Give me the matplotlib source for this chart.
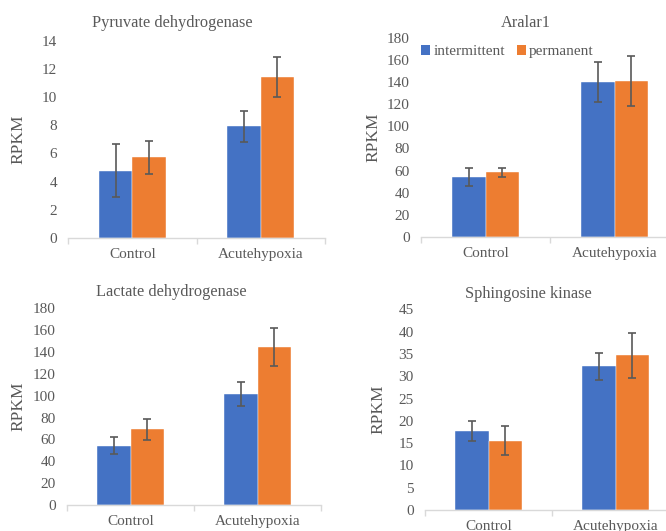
import matplotlib
matplotlib.use("Agg")
import matplotlib.pyplot as plt
import numpy as np
from matplotlib.patches import Patch

plt.rcParams['font.family'] = ['Liberation Serif', 'DejaVu Serif']

categories = ["Control", "Acutehypoxia"]
series_names = ["intermittent", "permanent"]
colors = ["#4472C4", "#ED7D31"]

titles = ["Pyruvate dehydrogenase", "Aralar1", "Lactate dehydrogenase", "Sphingosine kinase"]

pyr_int = [4.78, 7.92]
pyr_int_err = [1.87, 1.12]
pyr_perm = [5.74, 11.42]
pyr_perm_err = [1.17, 1.40]

ara_int = [54.5, 140.0]
ara_int_err = [8.0, 17.7]
ara_perm = [58.4, 141.0]
ara_perm_err = [4.3, 22.3]

lac_int = [54.3, 101.6]
lac_int_err = [8.0, 11.2]
lac_perm = [69.3, 144.6]
lac_perm_err = [9.8, 17.4]

sph_int = [17.7, 32.2]
sph_int_err = [2.3, 2.95]
sph_perm = [15.5, 34.7]
sph_perm_err = [3.25, 5.0]

yticks = [np.arange(0, 15, 2), np.arange(0, 181, 20), np.arange(0, 181, 20), np.arange(0, 46, 5)]
ylims = [14, 180, 180, 45]

data = [
    (pyr_int, pyr_int_err, pyr_perm, pyr_perm_err),
    (ara_int, ara_int_err, ara_perm, ara_perm_err),
    (lac_int, lac_int_err, lac_perm, lac_perm_err),
    (sph_int, sph_int_err, sph_perm, sph_perm_err),
]

W, H = 666, 531
fig = plt.figure(figsize=(W / 100, H / 100), dpi=100)

# pixel boxes: left, right, y of zero, y of top
boxes = [(68, 325, 238, 40.7), (421, 679, 237, 37.7), (67, 321, 505, 308.3), (425, 679, 510, 309.3)]
title_pos = [(172, 23), (526, 23), (171, 292), (528, 294)]
ylabel_x = [18, 373, 18, 378]

gray = "#595959"
bw = 0.26
for i, (b, d) in enumerate(zip(boxes, data)):
    l, r, y0, yt = b
    ax = fig.add_axes([l / W, (H - y0) / H, (r - l) / W, (y0 - yt) / H])
    x = np.arange(len(categories))
    vi, ei, vp, ep = d
    ax.bar(x - bw / 2, vi, bw, color=colors[0], edgecolor="white", linewidth=0.3, zorder=2)
    ax.bar(x + bw / 2, vp, bw, color=colors[1], edgecolor="white", linewidth=0.3, zorder=2)
    ax.errorbar(x - bw / 2, vi, yerr=ei, fmt="none", ecolor=gray, elinewidth=1.2, capsize=3, capthick=1.2, zorder=3)
    ax.errorbar(x + bw / 2, vp, yerr=ep, fmt="none", ecolor=gray, elinewidth=1.2, capsize=3, capthick=1.2, zorder=3)
    ax.set_xlim(-0.5, 1.5)
    ax.set_ylim(0, ylims[i])
    ax.set_yticks(yticks[i])
    ax.set_xticks(x)
    ax.set_xticklabels(categories)
    ax.set_xticks([-0.5, 0.5, 1.5], minor=True)
    ax.tick_params(axis="x", which="major", length=0, labelsize=11, colors=gray, pad=7)
    ax.tick_params(axis="x", which="minor", length=4, color="#d9d9d9", width=1)
    ax.tick_params(axis="y", length=0, labelsize=11, colors=gray, pad=8)
    for s in ["top", "right", "left"]:
        ax.spines[s].set_visible(False)
    ax.spines["bottom"].set_color("#d9d9d9")
    ax.spines["bottom"].set_linewidth(1)
    ax.set_facecolor("none")
    tx, ty = title_pos[i]
    fig.text(tx / W, 1 - ty / H, titles[i], ha="center", va="center", fontsize=11.8, color=gray)
    fig.text(ylabel_x[i] / W, 1 - ((y0 + yt) / 2) / H, "RPKM", rotation=90, ha="center", va="center",
             fontsize=12.5, color=gray)
    if i == 1:
        handles = [Patch(facecolor=colors[0]), Patch(facecolor=colors[1])]
        ax.legend(handles, series_names, loc="upper left", bbox_to_anchor=((421 - l) / (r - l), (237 - 45) / (237 - 37.7)),
                  ncol=2, frameon=False, handlelength=0.6, handleheight=0.6, handletextpad=0.2,
                  columnspacing=0.8, borderaxespad=0, borderpad=0, prop={"size": 11}, labelcolor=gray)

fig.savefig("out.png", dpi=100)
